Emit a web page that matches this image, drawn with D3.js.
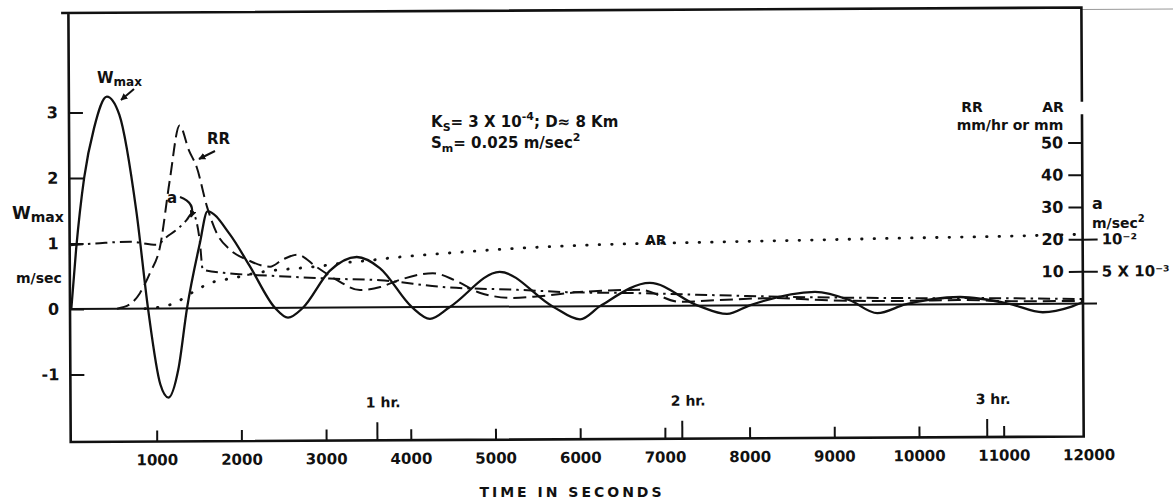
<!DOCTYPE html>
<html>
<head>
<meta charset="utf-8">
<script src="https://cdn.jsdelivr.net/npm/d3@7"></script>
<style>
  html, body { margin: 0; padding: 0; background: #fff; }
  svg { display: block; font-family: "DejaVu Sans", sans-serif; font-weight: bold; }
  text { fill: #111; }
</style>
</head>
<body>
<svg id="chart" width="1173" height="504"></svg>
<script>
// ---- axis ticks ----
const timeTicks = [1000, 2000, 3000, 4000, 5000, 6000, 7000, 8000, 9000, 10000, 11000, 12000];
const hourTicks = [3600, 7200, 10800];
const hourLabels = ["1 hr.", "2 hr.", "3 hr."];
const wTicks = [-1, 0, 1, 2, 3];
const rrTicks = [10, 20, 30, 40, 50];
const qTicks = [0.005, 0.01];
const qTickLabels = ["5 X 10\u207B\u00B3", "10\u207B\u00B2"];

// ---- series: time (s) and value ----
// maximum updraft, m/sec
const wmaxTime = [0, 60, 160, 280, 433, 580, 776, 906, 1047, 1142, 1260, 1366, 1520, 1614, 1875, 2110, 2405, 2558, 2735, 3053, 3373, 3645, 4022, 4234, 4470, 5060, 5683, 6006, 6243, 6832, 7398, 7742, 8010, 8780, 9190, 9516, 9847, 10490, 11080, 11470, 11800, 11940];
const wmaxValues = [0, 0.9, 2.0, 2.76, 3.24, 2.96, 1.47, 0, -1.16, -1.36, -0.93, 0, 0.98, 1.48, 1.13, 0.64, 0, -0.15, 0, 0.56, 0.77, 0.6, 0, -0.18, 0, 0.53, 0, -0.2, 0, 0.35, 0, -0.13, 0, 0.2, 0.07, -0.13, 0, 0.11, 0, -0.13, -0.05, 0.02];

// rain rate, mm/hr
const rrTime = [540, 700, 811, 930, 1050, 1170, 1290, 1400, 1490, 1610, 1720, 1880, 2080, 2350, 2500, 2670, 2900, 3140, 3410, 3650, 3880, 4270, 4530, 4830, 5210, 5530, 6000, 6710, 7190, 7660, 8290, 8960, 9780, 10490, 11200, 11940];
const rrValues = [0, 1.5, 4.8, 11, 19, 39.7, 56.8, 49, 43.8, 31.4, 23.4, 18.1, 15, 12.8, 15, 16.5, 12.6, 8.5, 5.4, 6.3, 8.5, 10.5, 8.3, 4.3, 2.7, 3.2, 4.4, 5, 1.2, 1.7, 2.2, 1.4, 1.1, 1.3, 0.8, 0.8];

// acceleration a, m/sec^2
const qTime = [0, 340, 700, 1010, 1130, 1283, 1366, 1437, 1520, 1555, 1875, 2350, 3050, 3650, 4390, 5270, 5850, 6630, 7620, 8400, 9780, 10960, 11940];
const qValues = [0.0099, 0.0102, 0.0104, 0.0099, 0.0111, 0.0126, 0.0137, 0.0148, 0.0106, 0.0060, 0.0054, 0.0050, 0.0045, 0.0042, 0.0031, 0.0026, 0.0022, 0.0020, 0.0016, 0.0013, 0.0010, 0.0009, 0.0007];

// accumulated rain, mm
const arTime = [870, 1050, 1250, 1343, 1520, 1673, 1910, 2170, 2972, 3255, 3527, 3727, 4440, 5200, 6010, 7580, 8600, 9790, 10970, 11940];
const arValues = [0, 0.5, 2, 3.5, 6.3, 8.1, 9.3, 10.8, 13, 14, 14.6, 15.2, 16.7, 18, 18.9, 19.7, 20.1, 20.6, 21, 21.5];

const svg = d3.select("#chart");
svg.append("rect").attr("width", 1173).attr("height", 504).attr("fill", "#fff");

// ---- scales ----
const frame = { left: 70, right: 1083, top: 13, bottom: 442 };
const x = d3.scaleLinear().domain([0, 12000]).range([71.3, 1087.7]);
const yW = d3.scaleLinear().domain([-1, 3]).range([374.5, 112.5]);
const yRR = d3.scaleLinear().domain([0, 50]).range([309, 148]);
const yQ = d3.scaleLinear().domain([0, 0.025]).range([309, 148]);

const defs = svg.append("defs");
defs.append("marker").attr("id", "arrow").attr("viewBox", "0 0 10 10")
  .attr("refX", 9).attr("refY", 5).attr("markerWidth", 7).attr("markerHeight", 7)
  .attr("orient", "auto-start-reverse").attr("markerUnits", "userSpaceOnUse")
  .append("path").attr("d", "M0,0 L10,5 L0,10 z").attr("fill", "#111");
defs.append("clipPath").attr("id", "plotclip").append("rect")
  .attr("x", frame.left).attr("y", frame.top)
  .attr("width", frame.right - frame.left).attr("height", frame.bottom - frame.top);

// the whole plot sits very slightly tilted
const g = svg.append("g").attr("transform", "rotate(-0.31, 71, 309)");

// thin rule running on past the frame top
g.append("line").attr("x1", frame.right).attr("x2", 1180).attr("y1", frame.top + 2).attr("y2", frame.top + 2)
  .attr("stroke", "#999").attr("stroke-width", 1);

// frame (right side broken beside the AR heading)
g.append("path")
  .attr("d", `M${frame.left - 6},${frame.top} L${frame.right},${frame.top} L${frame.right},106
              M${frame.right},121 L${frame.right},${frame.bottom} L${frame.left},${frame.bottom} L${frame.left},${frame.top}`)
  .attr("fill", "none").attr("stroke", "#111").attr("stroke-width", 2.6)
  .attr("stroke-linejoin", "miter").attr("stroke-linecap", "square");

// zero line
g.append("line").attr("x1", frame.left).attr("x2", frame.right + 14)
  .attr("y1", yW(0)).attr("y2", yW(0)).attr("stroke", "#111").attr("stroke-width", 2);

function styleAxis(sel, size) {
  sel.select(".domain").remove();
  sel.selectAll(".tick line").attr("stroke", "#111").attr("stroke-width", 2);
  sel.selectAll(".tick text").attr("font-family", "DejaVu Sans, sans-serif")
    .attr("font-weight", "bold").attr("font-size", size).attr("fill", "#111");
}

// left axis: Wmax
const axL = g.append("g").attr("transform", `translate(${frame.left},0)`)
  .call(d3.axisLeft(yW).tickValues(wTicks).tickSizeInner(-14).tickSizeOuter(0)
    .tickPadding(11).tickFormat(d => String(d)));
styleAxis(axL, 16);

// right axis: RR / AR
const axR = g.append("g").attr("transform", `translate(${frame.right},0)`)
  .call(d3.axisLeft(yRR).tickValues(rrTicks).tickSizeInner(14).tickSizeOuter(0)
    .tickPadding(5).tickFormat(d => String(d)));
styleAxis(axR, 16);

// right axis: a
const axQ = g.append("g").attr("transform", `translate(${frame.right},0)`)
  .call(d3.axisRight(yQ).tickValues(qTicks).tickSizeInner(15).tickSizeOuter(0)
    .tickPadding(4).tickFormat((d, i) => qTickLabels[i]));
styleAxis(axQ, 15);

// bottom axis: seconds
const axB = g.append("g").attr("transform", `translate(0,${frame.bottom})`)
  .call(d3.axisBottom(x).tickValues(timeTicks).tickSizeInner(-11).tickSizeOuter(0)
    .tickPadding(13).tickFormat(d3.format("d")));
styleAxis(axB, 15);
axB.selectAll(".tick").filter(d => d === 12000).select("line").remove();

// hour marks
const axH = g.append("g").attr("transform", `translate(0,${frame.bottom})`)
  .call(d3.axisTop(x).tickValues(hourTicks).tickSizeInner(18).tickSizeOuter(0)
    .tickPadding(15).tickFormat((d, i) => hourLabels[i]));
styleAxis(axH, 14);
axH.selectAll(".tick text").attr("dx", 6);

// ---- curves ----
const curves = g.append("g").attr("clip-path", "url(#plotclip)");
function draw(times, values, yScale, dash, width, cap) {
  const pts = times.map((t, i) => [t, values[i]]);
  curves.append("path").datum(pts)
    .attr("d", d3.line().x(d => x(d[0])).y(d => yScale(d[1])).curve(d3.curveMonotoneX))
    .attr("fill", "none").attr("stroke", "#111").attr("stroke-width", width)
    .attr("stroke-dasharray", dash).attr("stroke-linecap", cap || "butt")
    .attr("stroke-linejoin", "round");
}
draw(arTime, arValues, yRR, "0.5 12", 2.8, "round");
draw(qTime, qValues, yQ, "12 5 2.5 5", 2);
draw(rrTime, rrValues, yRR, "13 6", 2);
draw(wmaxTime, wmaxValues, yW, null, 2.3);

// ---- text ----
const T = svg.append("g");
function label(xp, yp, size, anchor) {
  return T.append("text").attr("x", xp).attr("y", yp).attr("font-size", size)
    .attr("text-anchor", anchor || "start");
}

// left axis title
const wl = label(12, 219, 17);
wl.append("tspan").text("W");
wl.append("tspan").attr("font-size", 14).attr("dy", 3).text("max");
label(16, 283, 14).text("m/sec");

// curve labels
const wc = label(97, 83, 15);
wc.append("tspan").text("W");
wc.append("tspan").attr("font-size", 12).attr("dy", 3).text("max");
T.append("path").attr("d", "M134,89 L121,100").attr("stroke", "#111").attr("stroke-width", 2)
  .attr("fill", "none").attr("marker-end", "url(#arrow)");

label(207, 144, 15).text("RR");
T.append("path").attr("d", "M215,151 L199,159").attr("stroke", "#111").attr("stroke-width", 2)
  .attr("fill", "none").attr("marker-end", "url(#arrow)");

label(167, 203, 15).text("a");
T.append("path").attr("d", "M180,197 Q196,203 191,217").attr("stroke", "#111").attr("stroke-width", 2.2)
  .attr("fill", "none").attr("marker-end", "url(#arrow)");

label(645, 245, 14).text("AR");

// parameters
const k1 = label(431, 127, 15);
k1.append("tspan").text("K");
k1.append("tspan").attr("font-size", 11).attr("dy", 4).text("S");
k1.append("tspan").attr("dy", -4).text("= 3 X 10");
k1.append("tspan").attr("font-size", 11).attr("dy", -7).text("-4");
k1.append("tspan").attr("dy", 7).text("; D\u2248 8 Km");
const k2 = label(431, 148, 15);
k2.append("tspan").text("S");
k2.append("tspan").attr("font-size", 11).attr("dy", 4).text("m");
k2.append("tspan").attr("dy", -4).text("= 0.025 m/sec");
k2.append("tspan").attr("font-size", 11).attr("dy", -7).text("2");

// right axis headings
label(972, 112, 14, "middle").text("RR");
label(1053, 112, 14, "middle").text("AR");
label(1010, 130, 14, "middle").text("mm/hr or mm");
label(1092, 209, 16).text("a");
const ms = label(1092, 228, 14);
ms.append("tspan").text("m/sec");
ms.append("tspan").attr("font-size", 10).attr("dy", -6).text("2");

// x axis title
label(572, 497, 14, "middle").attr("letter-spacing", 3).text("TIME IN SECONDS");
</script>
</body>
</html>
